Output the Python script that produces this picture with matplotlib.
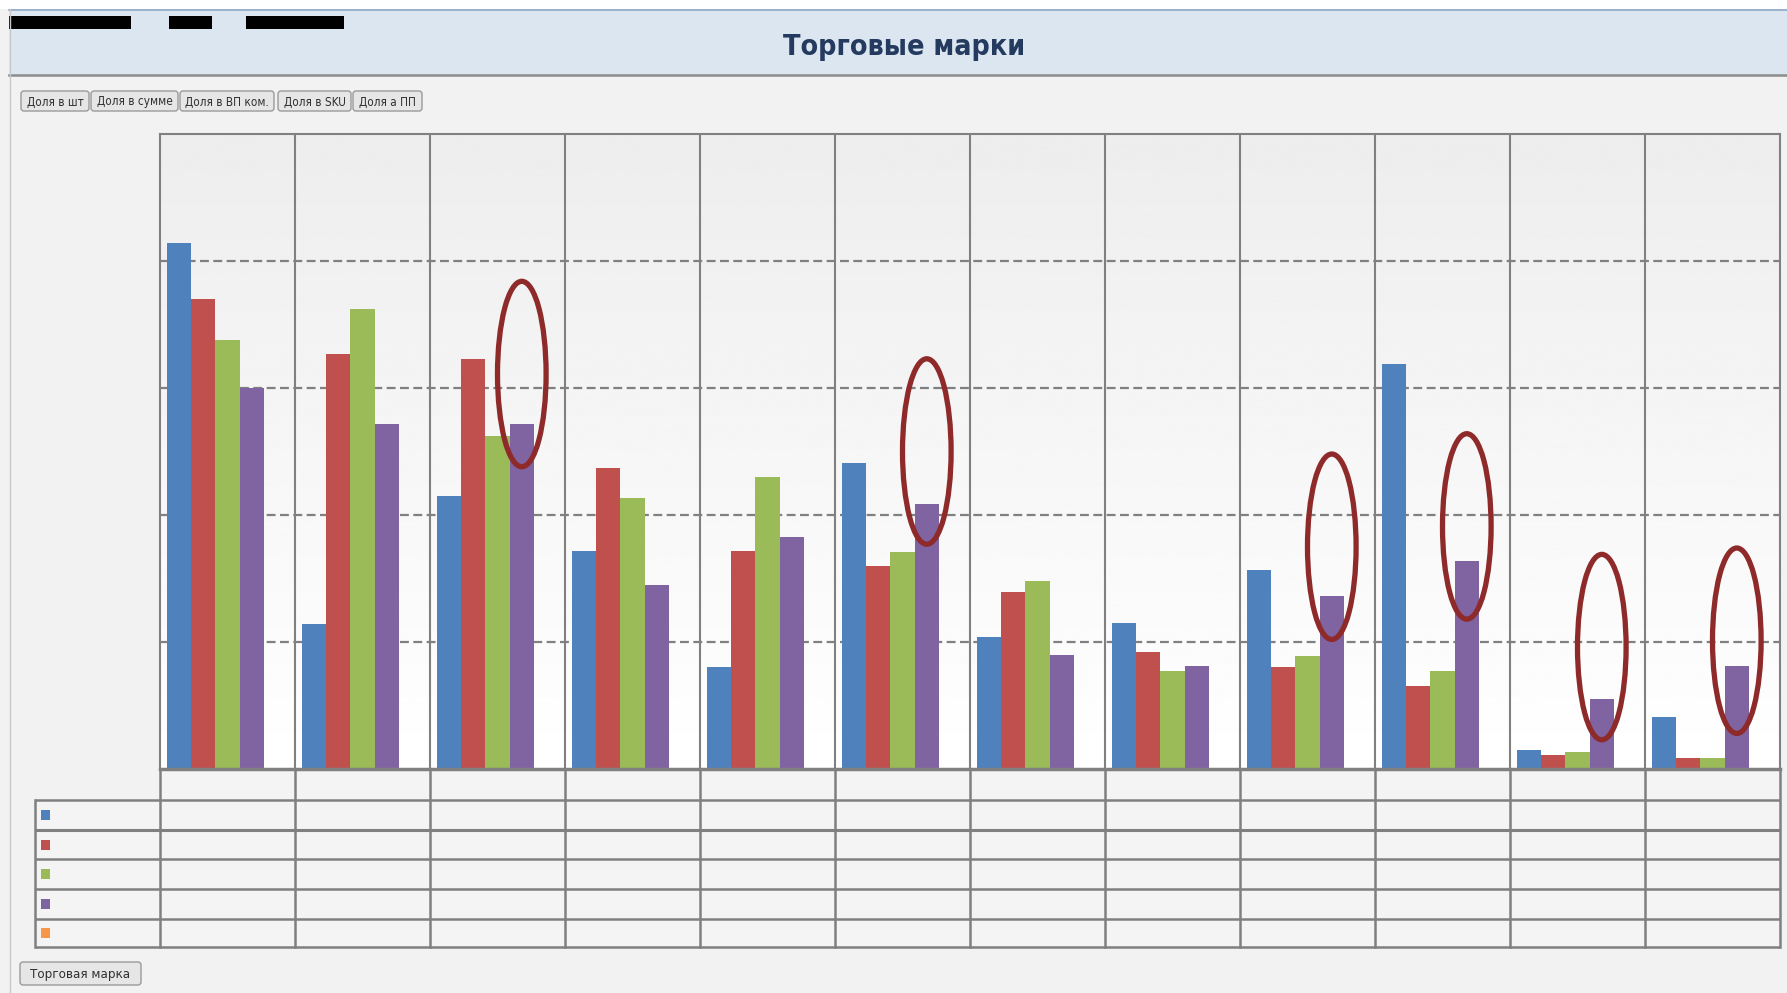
import numpy as np
import matplotlib.pyplot as plt
from matplotlib.patches import Rectangle, Ellipse, FancyBboxPatch

# share of each trade mark, percent
brands = list(range(1, 13))
share_units = [41.4, 11.4, 21.5, 17.2, 8.0, 24.1, 10.4, 11.5, 15.7, 31.9, 1.5, 4.1]
share_sum = [37.0, 32.7, 32.3, 23.7, 17.2, 16.0, 13.9, 9.2, 8.0, 6.5, 1.1, 0.9]
share_margin = [33.8, 36.2, 26.2, 21.3, 23.0, 17.1, 14.8, 7.7, 8.9, 7.7, 1.3, 0.9]
share_sku = [30.0, 27.2, 27.2, 14.5, 18.3, 20.9, 9.0, 8.1, 13.6, 16.4, 5.5, 8.1]
series = [share_units, share_sum, share_margin, share_sku]

# brands marked by hand, with the middle of each mark
marked = [2, 5, 8, 9, 10, 11]
marked_mid = [31.1, 25.0, 17.5, 19.1, 9.6, 10.1]

buttons = ["Доля в шт", "Доля в сумме", "Доля в ВП ком.", "Доля в SKU", "Доля а ПП"]
title = "Торговые марки"
axis_button = "Торговая марка"

colors = ["#4f81bd", "#c0504d", "#9bbb59", "#8064a2", "#f79646"]
grid_col = "#808080"

W, H = 1787, 993
fig = plt.figure(figsize=(W / 100, H / 100), dpi=100, facecolor="#f2f2f2")

# pixel overlay for header, buttons and the table under the chart
ov = fig.add_axes([0, 0, 1, 1], zorder=0)
ov.set_xlim(0, W)
ov.set_ylim(H, 0)
ov.axis("off")
ov.add_patch(Rectangle((0, 0), W, 9, facecolor="white", edgecolor="none"))
ov.add_patch(Rectangle((9, 9), W - 9, 66, facecolor="#dce6f1", edgecolor="none"))
ov.plot([9, W], [9.5, 9.5], color="#8fa8c8", lw=1.2)
ov.plot([9, W], [75, 75], color="#8c8c8c", lw=1.8)
ov.plot([9.5, 9.5], [9, H], color="#c8c8c8", lw=1.0)
ov.text(904, 47, title, ha="center", va="center", fontsize=20.5, fontweight="bold",
        color="#243a5e", family="DejaVu Sans", fontstretch="condensed")

# blacked-out header text
for x0, x1 in [(9, 131), (169, 212), (246, 344)]:
    ov.add_patch(Rectangle((x0, 16), x1 - x0, 13, facecolor="black", edgecolor="none"))


def button(x0, x1, y0, y1, label, size):
    ov.add_patch(FancyBboxPatch((x0, y0), x1 - x0, y1 - y0,
                                boxstyle="round,pad=0,rounding_size=3",
                                facecolor="#e6e6e6", edgecolor="#9a9a9a", lw=1.0))
    ov.text((x0 + x1) / 2, (y0 + y1) / 2 + 1, label, ha="center", va="center",
            fontsize=size, color="#303030", family="DejaVu Sans", fontstretch="condensed")


bx = [(21, 89), (91, 178), (180, 274), (278, 351), (353, 422)]
for (x0, x1), lab in zip(bx, buttons):
    button(x0, x1, 91, 111, lab, 8.5)
button(20, 141, 962, 985, axis_button, 9.5)

# chart area
left, right, top, base = 160, 1780, 134, 769
ncol = len(brands)
colw = (right - left) / ncol
ax = fig.add_axes([left / W, 1 - base / H, (right - left) / W, (base - top) / H], zorder=2)
grad = np.linspace(0.93, 1.0, 256).reshape(-1, 1)
ax.imshow(grad, extent=[0, ncol, 0, 50], aspect="auto", cmap="gray", vmin=0, vmax=1,
          zorder=0, origin="upper")
ax.set_xlim(0, ncol)
ax.set_ylim(0, 50)
for yv in [10, 20, 30, 40]:
    ax.axhline(yv, color=grid_col, lw=1.6, ls=(0, (4, 2)), zorder=1)
for i in range(1, ncol):
    ax.axvline(i, color=grid_col, lw=1.5, zorder=1)

bw = 0.18
x = np.arange(ncol)
for k, vals in enumerate(series):
    ax.bar(x + 0.05 + k * bw, vals, width=bw, align="edge", color=colors[k],
           edgecolor="none", zorder=2)

for c, m in zip(marked, marked_mid):
    ax.add_patch(Ellipse((c + 0.05 + 3.5 * bw, m), 0.36, 14.6, fill=False,
                         edgecolor="#8e2a2a", lw=3.8, zorder=3))

ax.set_xticks([])
ax.set_yticks([])
for s in ["left", "right", "top"]:
    ax.spines[s].set_color(grid_col)
    ax.spines[s].set_linewidth(1.5)
ax.spines["bottom"].set_color(grid_col)
ax.spines["bottom"].set_linewidth(2.5)

# table under the chart: category row plus legend rows
rows = [769, 800, 830, 859, 889, 919, 947]
ov.add_patch(Rectangle((left, 769), right - left, 31, facecolor="#f4f4f4", edgecolor="none"))
ov.add_patch(Rectangle((35, 800), right - 35, 147, facecolor="#f4f4f4", edgecolor="none"))
for i, yv in enumerate(rows[1:]):
    ov.plot([35, right], [yv, yv], color=grid_col, lw=2.2 if i == 1 else 1.8,
            solid_capstyle="butt")
ov.plot([35, 35], [800, 947], color=grid_col, lw=1.8)
for i in range(ncol + 1):
    xv = left + i * colw
    ov.plot([xv, xv], [769, 947], color=grid_col, lw=1.8)
for k, c in enumerate(colors):
    yc = (rows[k + 1] + rows[k + 2]) / 2
    ov.add_patch(Rectangle((41, yc - 5), 9, 10, facecolor=c, edgecolor="none"))

fig.savefig("out.png", dpi=100, facecolor=fig.get_facecolor())
